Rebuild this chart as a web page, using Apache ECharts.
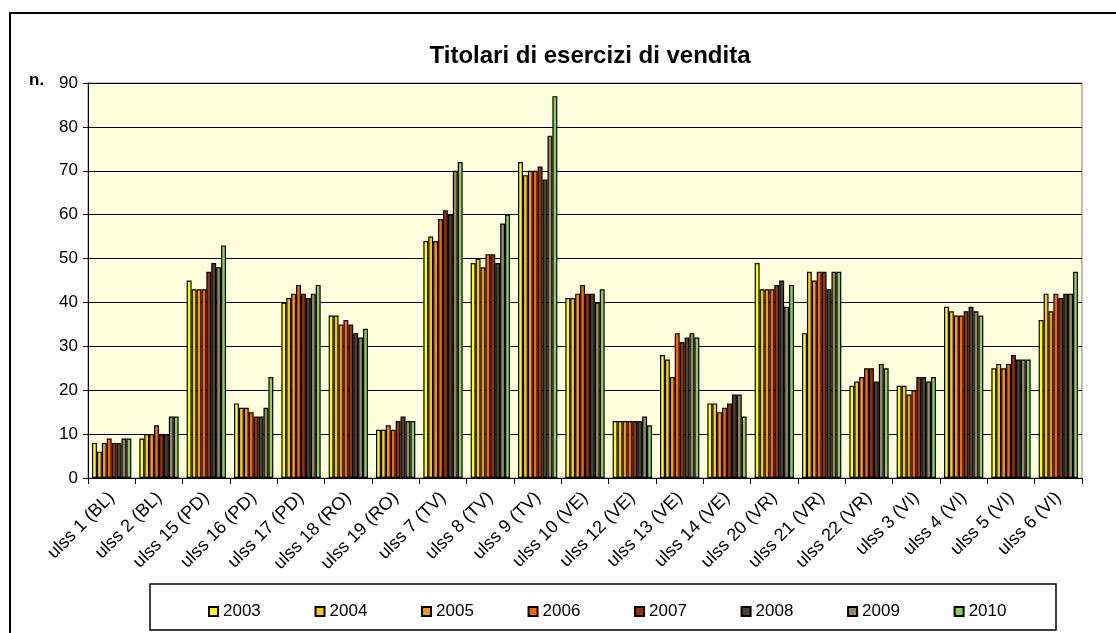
<!DOCTYPE html>
<html>
<head>
<meta charset="utf-8">
<script src="https://cdn.jsdelivr.net/npm/echarts@6/dist/echarts.min.js"></script>
<style>
  html, body { margin: 0; padding: 0; background: #fff; }
  #chart { width: 1116px; height: 633px; }
</style>
</head>
<body>
<div id="chart"></div>
<script>
  const categories = ['ulss 1 (BL)', 'ulss 2 (BL)', 'ulss 15 (PD)', 'ulss 16 (PD)', 'ulss 17 (PD)',
    'ulss 18 (RO)', 'ulss 19 (RO)', 'ulss 7 (TV)', 'ulss 8 (TV)', 'ulss 9 (TV)', 'ulss 10 (VE)',
    'ulss 12 (VE)', 'ulss 13 (VE)', 'ulss 14 (VE)', 'ulss 20 (VR)', 'ulss 21 (VR)', 'ulss 22 (VR)',
    'ulss 3 (VI)', 'ulss 4 (VI)', 'ulss 5 (VI)', 'ulss 6 (VI)']

  const years = ['2003', '2004', '2005', '2006', '2007', '2008', '2009', '2010']

  const v2003 = [8, 9, 45, 17, 40, 37, 11, 54, 49, 72, 41, 13, 28, 17, 49, 33, 21, 21, 39, 25, 36]
  const v2004 = [6, 10, 43, 16, 41, 37, 11, 55, 50, 69, 41, 13, 27, 17, 43, 47, 22, 21, 38, 26, 42]
  const v2005 = [8, 10, 43, 16, 42, 35, 12, 54, 48, 70, 42, 13, 23, 15, 43, 45, 23, 19, 37, 25, 38]
  const v2006 = [9, 12, 43, 15, 44, 36, 11, 59, 51, 70, 44, 13, 33, 16, 43, 47, 25, 20, 37, 26, 42]
  const v2007 = [8, 10, 47, 14, 42, 35, 13, 61, 51, 71, 42, 13, 31, 17, 44, 47, 25, 23, 38, 28, 41]
  const v2008 = [8, 10, 49, 14, 41, 33, 14, 60, 49, 68, 42, 13, 32, 19, 45, 43, 22, 23, 39, 27, 42]
  const v2009 = [9, 14, 48, 16, 42, 32, 13, 70, 58, 78, 40, 14, 33, 19, 39, 47, 26, 22, 38, 27, 42]
  const v2010 = [9, 14, 53, 23, 44, 34, 13, 72, 60, 87, 43, 12, 32, 14, 44, 47, 25, 23, 37, 27, 47]

  const yTicks = [0, 10, 20, 30, 40, 50, 60, 70, 80, 90]

  const values = [v2003, v2004, v2005, v2006, v2007, v2008, v2009, v2010]
  const colors = ['#FFFF00', '#FFCC00', '#FF9900', '#FF6600', '#993300', '#4A4430', '#968B5F', '#8FCF52']

  const font = "'Liberation Sans', Arial, sans-serif"

  let series = []
  for (let i = 0; i < years.length; i++) {
    series.push({
      name: years[i],
      type: 'bar',
      data: values[i],
      barGap: 0,
      barCategoryGap: '17%',
      itemStyle: {color: colors[i], borderColor: '#000', borderWidth: 1.2},
      emphasis: {disabled: true}
    })
  }

  let chart = echarts.init(document.getElementById('chart'))
  chart.setOption({
    animation: false,
    color: colors,
    title: {
      text: 'Titolari di esercizi di vendita',
      left: 585,
      top: 39,
      textAlign: 'center',
      textStyle: {fontFamily: font, fontSize: 24, fontWeight: 'bold', color: '#000'}
    },
    graphic: [
      {
        type: 'rect',
        shape: {x: 10, y: 13, width: 1200, height: 700},
        style: {fill: 'none', stroke: '#000', lineWidth: 2},
        silent: true
      },
      {
        type: 'rect',
        shape: {x: 150, y: 584, width: 906, height: 46},
        style: {fill: 'none', stroke: '#000', lineWidth: 1.5},
        silent: true
      },
      {
        type: 'text',
        left: 29,
        top: 72,
        style: {text: 'n.', font: 'bold 17px ' + font, fill: '#000'}
      }
    ],
    legend: {
      data: years,
      left: 203,
      top: 598,
      itemWidth: 9,
      itemHeight: 9,
      itemGap: 53.7,
      icon: 'rect',
      textStyle: {fontFamily: font, fontSize: 17, color: '#000'}
    },
    grid: {
      left: 88,
      right: 34,
      top: 83,
      bottom: 155,
      show: true,
      backgroundColor: '#FFFFDE',
      borderColor: '#808080',
      borderWidth: 1
    },
    xAxis: {
      type: 'category',
      data: categories,
      axisLine: {lineStyle: {color: '#000', width: 1}},
      axisTick: {show: true, length: 6, lineStyle: {color: '#000'}},
      axisLabel: {
        rotate: 45,
        interval: 0,
        margin: 17,
        fontFamily: font,
        fontSize: 18,
        color: '#000'
      }
    },
    yAxis: {
      type: 'value',
      min: yTicks[0],
      max: yTicks[yTicks.length - 1],
      interval: 10,
      axisLine: {show: true, lineStyle: {color: '#000', width: 1}},
      axisTick: {show: true, length: 5, lineStyle: {color: '#000'}},
      axisLabel: {margin: 10, fontFamily: font, fontSize: 17, color: '#000'},
      splitLine: {lineStyle: {color: '#000', width: 1}}
    },
    series: series
  })
</script>
</body>
</html>
